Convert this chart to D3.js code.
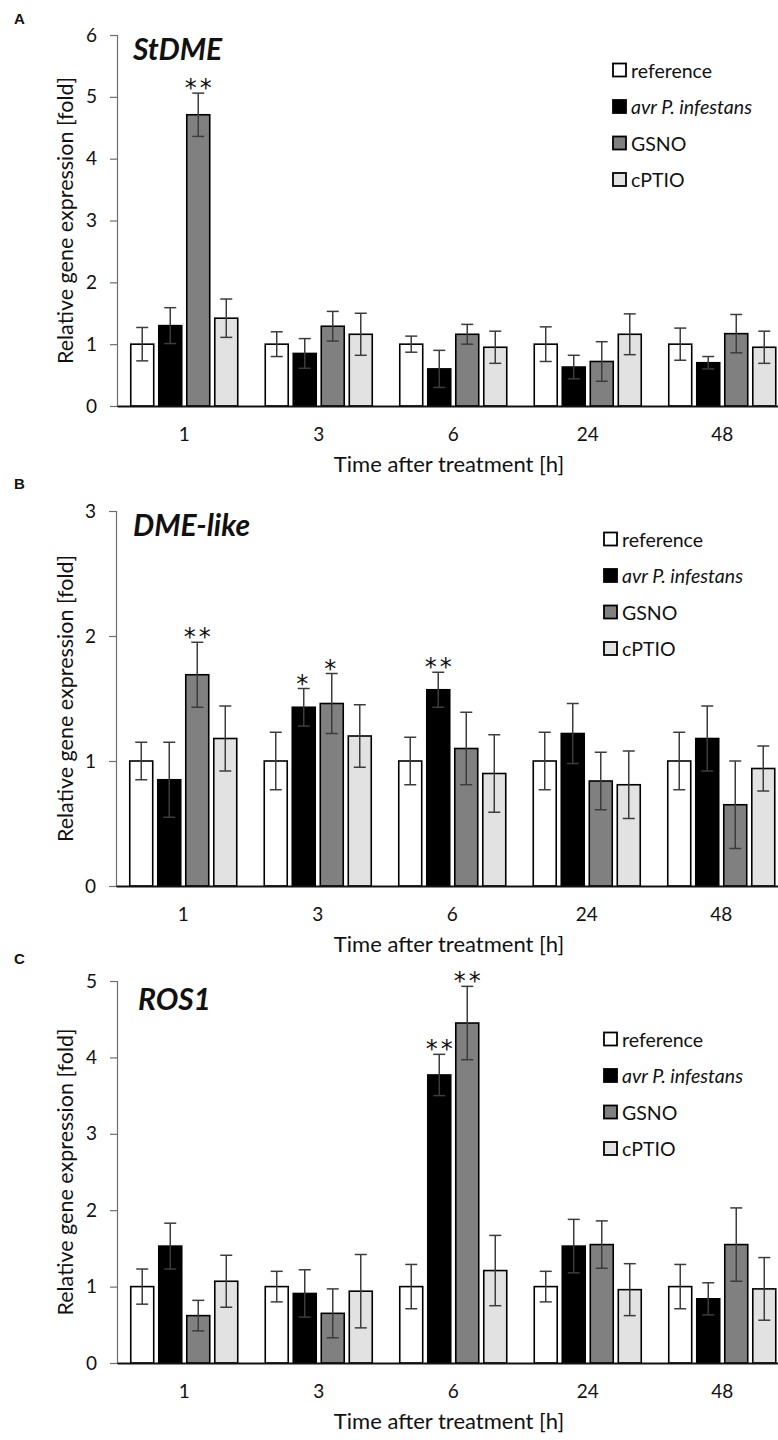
<!DOCTYPE html>
<html>
<head>
<meta charset="utf-8">
<script src="https://cdn.jsdelivr.net/npm/d3@7"></script>
<style>
  html, body { margin: 0; padding: 0; background: #fff; }
  svg { display: block; }
  text { font-family: Lato, "Open Sans", sans-serif; fill: #111; }
</style>
</head>
<body>
<svg id="chart" width="778" height="1440"></svg>
<script>
// ---------- data ----------
const categories = ["1", "3", "6", "24", "48"];
const seriesNames = ["reference", "avr P. infestans", "GSNO", "cPTIO"];

// Panel A: StDME
const stdmeTicks = [0, 1, 2, 3, 4, 5, 6];
const stdmeRef = [1.00, 1.00, 1.00, 1.00, 1.00];
const stdmeRefErr = [0.27, 0.20, 0.13, 0.28, 0.26];
const stdmeAvr = [1.30, 0.85, 0.60, 0.63, 0.70];
const stdmeAvrErr = [0.29, 0.24, 0.30, 0.19, 0.10];
const stdmeGsno = [4.71, 1.29, 1.16, 0.72, 1.17];
const stdmeGsnoErr = [0.35, 0.24, 0.16, 0.32, 0.31];
const stdmeCptio = [1.42, 1.16, 0.95, 1.16, 0.95];
const stdmeCptioErr = [0.31, 0.34, 0.26, 0.33, 0.26];
const stdmeStars = [{cat: "1", series: 2, label: "**"}];

// Panel B: DME-like
const dmeTicks = [0, 1, 2, 3];
const dmeRef = [1.00, 1.00, 1.00, 1.00, 1.00];
const dmeRefErr = [0.15, 0.23, 0.19, 0.23, 0.23];
const dmeAvr = [0.85, 1.43, 1.57, 1.22, 1.18];
const dmeAvrErr = [0.30, 0.15, 0.14, 0.24, 0.26];
const dmeGsno = [1.69, 1.46, 1.10, 0.84, 0.65];
const dmeGsnoErr = [0.26, 0.24, 0.29, 0.23, 0.35];
const dmeCptio = [1.18, 1.20, 0.90, 0.81, 0.94];
const dmeCptioErr = [0.26, 0.25, 0.31, 0.27, 0.18];
const dmeStars = [
  {cat: "1", series: 2, label: "**"},
  {cat: "3", series: 1, label: "*"},
  {cat: "3", series: 2, label: "*"},
  {cat: "6", series: 1, label: "**"}
];

// Panel C: ROS1
const rosTicks = [0, 1, 2, 3, 4, 5];
const rosRef = [1.00, 1.00, 1.00, 1.00, 1.00];
const rosRefErr = [0.23, 0.20, 0.29, 0.20, 0.29];
const rosAvr = [1.53, 0.91, 3.77, 1.53, 0.84];
const rosAvrErr = [0.30, 0.31, 0.27, 0.35, 0.21];
const rosGsno = [0.62, 0.65, 4.45, 1.55, 1.55];
const rosGsnoErr = [0.20, 0.32, 0.48, 0.31, 0.48];
const rosCptio = [1.07, 0.94, 1.21, 0.96, 0.97];
const rosCptioErr = [0.34, 0.48, 0.46, 0.34, 0.41];
const rosStars = [
  {cat: "6", series: 1, label: "**"},
  {cat: "6", series: 2, label: "**"}
];

// ---------- styling / layout ----------
const fills = ["#ffffff", "#000000", "#808080", "#e2e2e2"];
const panels = [
  { letter: "A", title: "StDME", letterY: 24, top: 35, zero: 406, axisX: 117,
    titleX: 133, titleY: 60, legendX: 613, legendY: 70,
    ticks: stdmeTicks, values: [stdmeRef, stdmeAvr, stdmeGsno, stdmeCptio],
    errors: [stdmeRefErr, stdmeAvrErr, stdmeGsnoErr, stdmeCptioErr], stars: stdmeStars },
  { letter: "B", title: "DME-like", letterY: 489, top: 511, zero: 886, axisX: 116,
    titleX: 133, titleY: 536, legendX: 604, legendY: 539,
    ticks: dmeTicks, values: [dmeRef, dmeAvr, dmeGsno, dmeCptio],
    errors: [dmeRefErr, dmeAvrErr, dmeGsnoErr, dmeCptioErr], stars: dmeStars },
  { letter: "C", title: "ROS1", letterY: 964, top: 981, zero: 1363, axisX: 117,
    titleX: 138, titleY: 1010, legendX: 604, legendY: 1039,
    ticks: rosTicks, values: [rosRef, rosAvr, rosGsno, rosCptio],
    errors: [rosRefErr, rosAvrErr, rosGsnoErr, rosCptioErr], stars: rosStars }
];

const svg = d3.select("#chart");

panels.forEach(p => {
  const g = svg.append("g");
  const yMax = d3.max(p.ticks);
  const y = d3.scaleLinear().domain([0, yMax]).range([p.zero, p.top]);
  const x0 = d3.scaleBand().domain(categories)
    .range([p.axisX, p.axisX + 672.5]).paddingInner(0.167).paddingOuter(0.0835);
  const x1 = d3.scaleBand().domain(d3.range(seriesNames.length))
    .range([0, x0.bandwidth()]).paddingInner(0.18).paddingOuter(0.09);

  // panel letter
  g.append("text").attr("x", 14).attr("y", p.letterY)
    .style("font-family", "'Liberation Sans', Arial, sans-serif")
    .style("font-weight", "bold").style("font-size", "15px").text(p.letter);

  // y axis
  const yAxis = d3.axisLeft(y).tickValues(p.ticks).tickSize(7).tickPadding(13)
    .tickFormat(d3.format("d"));
  const ya = g.append("g").attr("transform", `translate(${p.axisX},0)`).call(yAxis);
  ya.select(".domain").attr("stroke", "#6e6e6e").attr("stroke-width", 1.2);
  ya.selectAll(".tick line").attr("stroke", "#6e6e6e").attr("stroke-width", 1.2);
  ya.selectAll(".tick text").style("font-size", "19px").style("font-family", "Lato, sans-serif").attr("fill", "#111");

  // y title
  g.append("text")
    .attr("transform", `translate(65,${(p.top + p.zero) / 2}) rotate(-90)`)
    .attr("text-anchor", "middle").attr("dominant-baseline", "central")
    .style("font-size", "21.5px").text("Relative gene expression [fold]");

  // bars
  categories.forEach((c, ci) => {
    p.values.forEach((vals, si) => {
      const v = vals[ci];
      const bx = x0(c) + x1(si);
      g.append("rect")
        .attr("x", bx).attr("y", y(v))
        .attr("width", x1.bandwidth()).attr("height", y(0) - y(v))
        .attr("fill", fills[si]).attr("stroke", "#000").attr("stroke-width", 1.6);
    });
  });

  // error bars
  categories.forEach((c, ci) => {
    p.values.forEach((vals, si) => {
      const v = vals[ci], e = p.errors[si][ci];
      const cx = x0(c) + x1(si) + x1.bandwidth() / 2;
      const eg = g.append("g").attr("stroke", "#3c3c3c").attr("stroke-width", 1.5);
      eg.append("line").attr("x1", cx).attr("x2", cx).attr("y1", y(v + e)).attr("y2", y(v - e));
      eg.append("line").attr("x1", cx - 6).attr("x2", cx + 6).attr("y1", y(v + e)).attr("y2", y(v + e));
      eg.append("line").attr("x1", cx - 6).attr("x2", cx + 6).attr("y1", y(v - e)).attr("y2", y(v - e));
    });
  });

  // significance stars
  p.stars.forEach(s => {
    const ci = categories.indexOf(s.cat);
    const v = p.values[s.series][ci], e = p.errors[s.series][ci];
    const cx = x0(s.cat) + x1(s.series) + x1.bandwidth() / 2;
    g.append("text").attr("x", cx + (s.label.length > 1 ? 1.5 : 0)).attr("y", y(v + e) + 3)
      .attr("text-anchor", "middle")
      .style("font-family", "'DejaVu Sans', sans-serif")
      .style("letter-spacing", "3px")
      .style("font-size", "24px").attr("fill", "#000").text(s.label);
  });

  // x axis
  const xAxis = d3.axisBottom(x0).tickSize(0).tickPadding(22);
  const xa = g.append("g").attr("transform", `translate(0,${p.zero})`).call(xAxis);
  xa.select(".domain").attr("stroke", "#111").attr("stroke-width", 2);
  xa.selectAll(".tick text").style("font-size", "19px").style("font-family", "Lato, sans-serif").attr("fill", "#111");

  // x title
  g.append("text").attr("x", 449).attr("y", p.zero + 66)
    .attr("text-anchor", "middle").style("font-size", "22px")
    .text("Time after treatment [h]");

  // title
  g.append("text").attr("x", p.titleX).attr("y", p.titleY)
    .style("font-weight", "bold").style("font-style", "italic")
    .style("font-size", "30px").attr("fill", "#000").text(p.title);

  // legend
  seriesNames.forEach((name, si) => {
    const ly = p.legendY + si * 36.5;
    g.append("rect").attr("x", p.legendX).attr("y", ly - 6.5)
      .attr("width", 13).attr("height", 13)
      .attr("fill", fills[si]).attr("stroke", "#000").attr("stroke-width", 1.8);
    g.append("text").attr("x", p.legendX + 18).attr("y", ly)
      .attr("dominant-baseline", "central")
      .style("font-size", "19.5px")
      .style("font-style", si === 1 ? "italic" : "normal")
      .text(name);
  });
});
</script>
</body>
</html>
